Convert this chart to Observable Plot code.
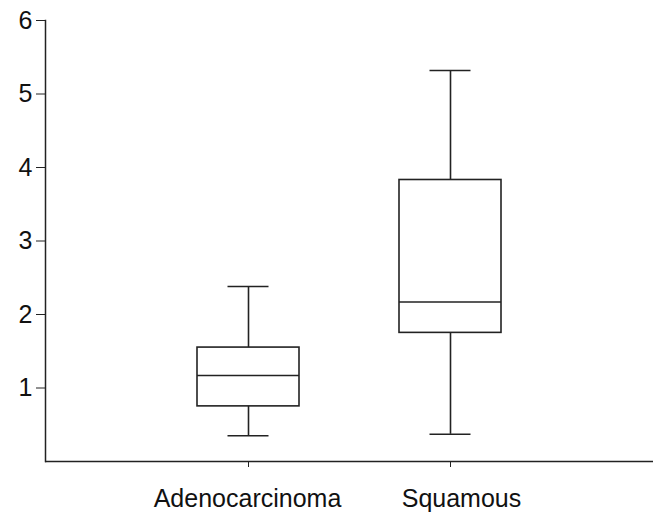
<!DOCTYPE html>
<html>
<head>
<meta charset="utf-8">
<script src="https://cdn.jsdelivr.net/npm/d3@7"></script>
<script src="https://cdn.jsdelivr.net/npm/@observablehq/plot@0.6"></script>
<style>
  html, body { margin: 0; padding: 0; background: #fff; }
  svg { display: block; }
</style>
</head>
<body>
<div id="chart"></div>
<script>
const categories = ["Adenocarcinoma", "Squamous"];
const whiskerLow = [0.35, 0.37];
const q1 = [0.75, 1.75];
const median = [1.17, 2.17];
const q3 = [1.55, 3.83];
const whiskerHigh = [2.38, 5.32];
const yTicks = [1, 2, 3, 4, 5, 6];

const data = categories.map((c, i) => ({
  cat: c, lo: whiskerLow[i], q1: q1[i], med: median[i], q3: q3[i], hi: whiskerHigh[i]
}));

const ink = "#222";
const chart = Plot.plot({
  width: 661,
  height: 514,
  marginLeft: 45,
  marginRight: 8,
  marginTop: 20,
  marginBottom: 53,
  style: { fontFamily: "'Liberation Sans', Arial, sans-serif", fontSize: "25px", color: "#111", background: "#fff" },
  x: { domain: categories, paddingInner: 0.497, paddingOuter: 0.7485 },
  y: { domain: [0, 6] },
  marks: [
    Plot.frame({ anchor: "left", stroke: ink, strokeWidth: 1.5 }),
    Plot.ruleY([0], { stroke: ink, strokeWidth: 1.5 }),
    Plot.axisY({ ticks: yTicks, tickFormat: "d", tickSize: 9, tickPadding: 4, label: null, stroke: ink, fontSize: 25 }),
    Plot.axisX({ tickSize: 6, tickPadding: 27, label: null, stroke: ink, fontSize: 25, tickFormat: () => "" }),
    Plot.axisX({ ticks: ["Adenocarcinoma"], tickSize: 0, tickPadding: 28, label: null, fontSize: 25, dx: -1 }),
    Plot.axisX({ ticks: ["Squamous"], tickSize: 0, tickPadding: 28, label: null, fontSize: 25, dx: 11 }),
    Plot.ruleX(data, { x: "cat", y1: "q3", y2: "hi", stroke: ink, strokeWidth: 1.6 }),
    Plot.ruleX(data, { x: "cat", y1: "lo", y2: "q1", stroke: ink, strokeWidth: 1.6 }),
    Plot.tickY(data, { x: "cat", y: "hi", stroke: ink, strokeWidth: 1.6, inset: 30.5 }),
    Plot.tickY(data, { x: "cat", y: "lo", stroke: ink, strokeWidth: 1.6, inset: 30.5 }),
    Plot.barY(data, { x: "cat", y1: "q1", y2: "q3", fill: "white", stroke: ink, strokeWidth: 1.6 }),
    Plot.tickY(data, { x: "cat", y: "med", stroke: ink, strokeWidth: 1.6 })
  ]
});
document.getElementById("chart").appendChild(chart);
</script>
</body>
</html>
